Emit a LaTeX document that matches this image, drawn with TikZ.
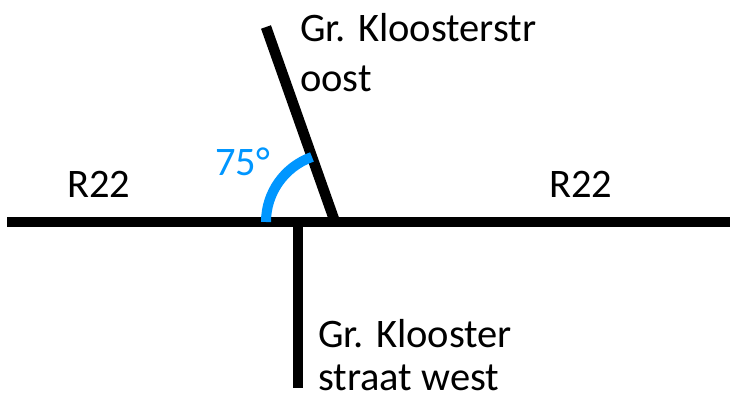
\documentclass[tikz,border=0pt]{standalone}
\usepackage{fontspec}
\setmainfont{Carlito}
\usetikzlibrary{calc}
\definecolor{angblue}{RGB}{0,150,255}
\begin{document}
\begin{tikzpicture}[x=1pt,y=-1pt,
  road/.style={line width=10.5pt, black},
  lbl/.style={anchor=base west, inner sep=0pt, font=\fontsize{40.5}{48}\selectfont},
  angarc/.style={line width=10pt, angblue}]
\useasboundingbox (0,0) rectangle (730,401);
\coordinate (L) at (7,222);
\coordinate (R) at (730,222);
\coordinate (X) at (335,222);
\coordinate (T) at (266,27);
\coordinate (VT) at (298,222);
\coordinate (VB) at (298,388);
\draw[road] (L) -- (R);
\draw[road] (X) -- (T);
\draw[road] (VT) -- (VB);
% arc from the left road up to the slanted road (y axis points down)
\draw[angarc] ($(X)+(-69,0)$) arc[start angle=180, end angle=250.5, radius=69];
\node[lbl, text=angblue] (ang) at (215,175) {75°};
\node[lbl] (r22l) at (67,197) {R22};
\node[lbl] (r22r) at (549,197) {R22};
\node[lbl] (noord1) at (300,42) {Gr. Kloosterstr};
\node[lbl] (noord2) at (300,92) {oost};
\node[lbl] (zuid1) at (318,347) {Gr. Klooster};
\node[lbl] (zuid2) at (318,390) {straat west};
\end{tikzpicture}
\end{document}
